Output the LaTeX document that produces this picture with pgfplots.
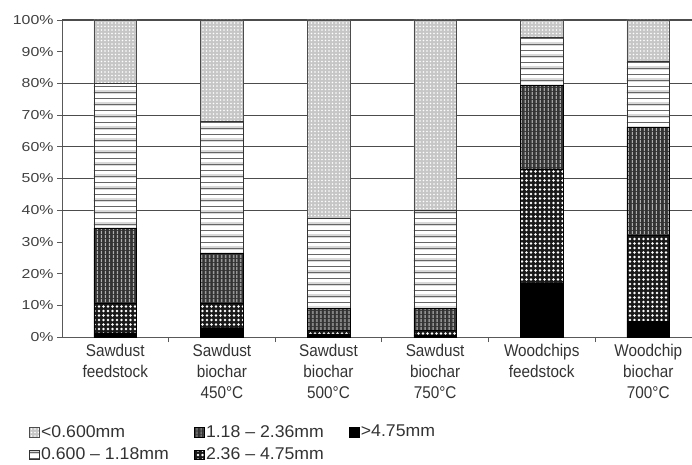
\documentclass[border=0pt]{standalone}
\usepackage{pgfplots}
\pgfplotsset{compat=1.18}
\usepackage{pgfplotstable}
\usetikzlibrary{patterns,patterns.meta}
\usepackage{fontspec}
\setmainfont{Liberation Sans}
\newfontfamily\ticfont[FakeStretch=1.22]{Liberation Sans}
\newfontfamily\catfont[FakeStretch=0.9]{Liberation Sans}
\newfontfamily\legfont[FakeStretch=1.04]{Liberation Sans}

\pgfplotstableread{
x gt475 a236 b118 c060 lt060
0 1.3 9.4 23.7 45.6 20.0
1 2.8 7.9 15.8 41.5 32.0
2 1.0 1.2 6.9 28.4 62.5
3 0.6 1.6 6.9 30.9 60.0
4 17.0 36.0 26.5 15.1 5.4
5 5.0 27.2 34.0 20.8 13.0
}\data

\pgfplotsset{
 s475/.style={fill=black, draw=black},
 s236/.style={fill=black!90, draw=black, postaction={pattern={Dots[distance=4.5pt, radius=1.3pt]}, pattern color=white}},
 s118/.style={fill=black!80, draw=black, postaction={pattern={Lines[angle=90, distance=4pt, line width=1pt]}, pattern color=gray!60}},
 s060/.style={fill=white, draw=black!80,
   postaction={pattern={Lines[angle=0, distance=12pt, line width=4pt]}, pattern color=gray!30},
   postaction={pattern={Lines[angle=0, distance=6pt, line width=0.9pt]}, pattern color=black!60}},
 slt/.style={fill=gray!45, draw=black!70, postaction={pattern={Dots[distance=3.5pt, radius=0.9pt]}, pattern color=white}},
}

\begin{document}
\begin{tikzpicture}
\useasboundingbox (0,0) rectangle (692pt,464pt);
\begin{axis}[
 at={(62pt,127pt)}, anchor=south west,
 scale only axis, width=630pt, height=317pt,
 ybar stacked, bar width=0.4,
 xmin=-0.5, xmax=5.41, ymin=0, ymax=100,
 axis x line*=bottom, axis y line*=left,
 axis line style={gray!70!black, line width=0.8pt, -},
 tick align=outside,
 tick style={gray!70!black, line width=0.8pt},
 major tick length=5pt,
 xtick={0.5,1.5,2.5,3.5,4.5}, xticklabels={},
 extra x ticks={0,1,2,3,4,5},
 extra x tick labels={Sawdust\\feedstock, Sawdust\\biochar\\450°C, Sawdust\\biochar\\500°C, Sawdust\\biochar\\750°C, Woodchips\\feedstock, Woodchip\\biochar\\700°C},
 extra x tick style={major tick length=0pt},
 xticklabel style={align=center, font=\catfont\fontsize{17}{21}\selectfont, text=black!80, inner sep=1pt, yshift=-6pt},
 ytick={0,10,...,100},
 yticklabels={0\%,10\%,20\%,30\%,40\%,50\%,60\%,70\%,80\%,90\%,100\%},
 yticklabel style={font=\ticfont\fontsize{13}{14}\selectfont, text=black!75},
 extra y ticks={40,50,60,70,80,100},
 extra y tick labels={},
 extra y tick style={grid=major, major grid style={gray!60!black, line width=1.1pt}},
 legend style={at={(0,0)}, anchor=north west, xshift=-36pt, yshift=-84pt, draw=none, fill=none,
   font=\legfont\fontsize{17}{18}\selectfont, text=black!80, legend columns=3, cells={anchor=west},
   row sep=5pt},
 legend image code/.code={\draw[#1] (0pt,-5pt) rectangle (9.5pt,4.5pt);},
]
\addplot[s475, forget plot] table[x=x, y=gt475] {\data};
\addplot[s236, forget plot] table[x=x, y=a236] {\data};
\addplot[s118, forget plot] table[x=x, y=b118] {\data};
\addplot[s060, forget plot] table[x=x, y=c060] {\data};
\addplot[slt, forget plot] table[x=x, y=lt060] {\data};
\addlegendimage{slt}
\addlegendentry{\makebox[151pt][l]{<0.600mm}}
\addlegendimage{s118}
\addlegendentry{\makebox[141pt][l]{1.18 – 2.36mm}}
\addlegendimage{s475}
\addlegendentry{>4.75mm}
\addlegendimage{s060}
\addlegendentry{\makebox[151pt][l]{0.600 – 1.18mm}}
\addlegendimage{s236}
\addlegendentry{\makebox[141pt][l]{2.36 – 4.75mm}}
\end{axis}
\end{tikzpicture}
\end{document}
